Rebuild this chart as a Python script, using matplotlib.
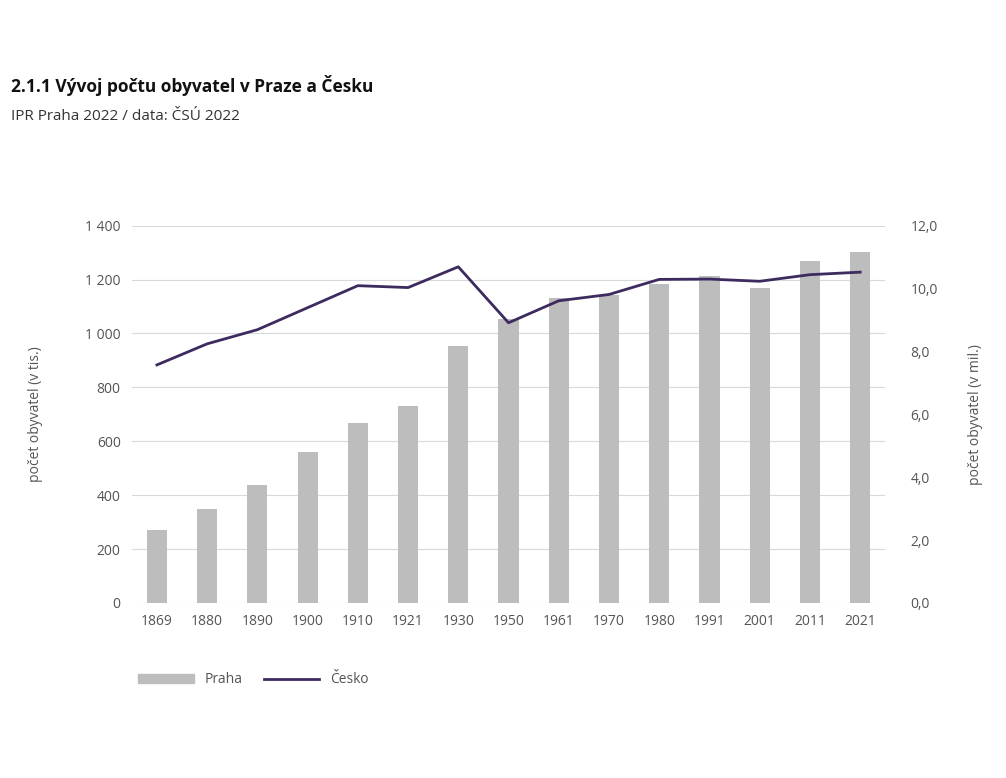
import matplotlib
matplotlib.use("Agg")
import matplotlib.pyplot as plt
from matplotlib.ticker import FuncFormatter
from matplotlib.lines import Line2D
from matplotlib.patches import Patch

years = ["1869","1880","1890","1900","1910","1921","1930","1950","1961","1970","1980","1991","2001","2011","2021"]
praha = [270, 350, 437, 560, 668, 732, 952, 1055, 1133, 1142, 1182, 1214, 1169, 1268, 1302]
cesko = [7.57, 8.24, 8.69, 9.39, 10.09, 10.03, 10.69, 8.91, 9.61, 9.81, 10.29, 10.30, 10.23, 10.44, 10.52]

plt.rcParams["font.family"] = "Open Sans"
fig = plt.figure(figsize=(10.06, 7.78), dpi=100)
ax = fig.add_axes([0.131, 0.225, 0.749, 0.485])
x = list(range(len(years)))
ax.bar(x, praha, width=0.4, color="#bdbdbd", zorder=2)
ax.set_ylim(0, 1400)
ax.set_yticks(range(0, 1401, 200))
ax.yaxis.set_major_formatter(FuncFormatter(lambda v, p: f"{int(v):,}".replace(",", " ")))
ax.grid(axis="y", color="#d9d9d9", lw=0.8, zorder=0)
ax.set_xticks(x)
ax.set_xticklabels(years)
ax.set_xlim(-0.5, len(years) - 0.5)
for s in ax.spines.values():
    s.set_visible(False)
ax.tick_params(length=0, colors="#555555", labelsize=10, pad=8)
ax.set_ylabel("počet obyvatel (v tis.)", color="#555555", fontsize=10, labelpad=30)

ax2 = ax.twinx()
ax2.plot(x, cesko, color="#3d2a5e", lw=2, zorder=3)
ax2.set_ylim(0, 12)
ax2.set_yticks(range(0, 13, 2))
ax2.yaxis.set_major_formatter(FuncFormatter(lambda v, p: f"{v:.1f}".replace(".", ",")))
for s in ax2.spines.values():
    s.set_visible(False)
ax2.tick_params(length=0, colors="#555555", labelsize=10, pad=18)
ax2.set_ylabel("počet obyvatel (v mil.)", color="#555555", fontsize=10, labelpad=22)

fig.text(0.011, 0.882, "2.1.1 Vývoj počtu obyvatel v Praze a Česku", fontsize=12.5, fontweight="bold", color="#111111")
fig.text(0.011, 0.846, "IPR Praha 2022 / data: ČSÚ 2022", fontsize=11, color="#333333")

handles = [Patch(color="#bdbdbd", label="Praha"), Line2D([], [], color="#3d2a5e", lw=2, label="Česko")]
fig.legend(handles=handles, loc="center left", bbox_to_anchor=(0.125, 0.126), ncol=2, frameon=False,
           fontsize=10, labelcolor="#555555", handlelength=4, columnspacing=1.5)
fig.savefig("out.png", dpi=100)
